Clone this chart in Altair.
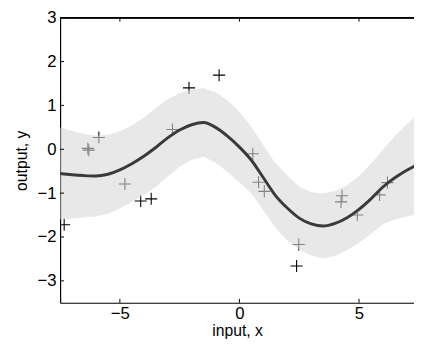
import altair as alt
import pandas as pd

# ---- data ----
grid_x = [-7.5, -7.0, -6.5, -6.0, -5.5, -5.0, -4.5, -4.0, -3.5, -3.0, -2.5, -2.0,
          -1.5, -1.0, -0.5, 0.0, 0.5, 1.0, 1.5, 2.0, 2.5, 3.0, 3.5, 4.0, 4.5, 5.0,
          5.5, 6.0, 6.5, 7.0, 7.5]
mean_y = [-0.55, -0.58, -0.60, -0.61, -0.57, -0.47, -0.33, -0.16, 0.04, 0.26, 0.44, 0.56,
          0.61, 0.50, 0.30, 0.05, -0.25, -0.65, -1.05, -1.34, -1.57, -1.70, -1.75, -1.69,
          -1.56, -1.37, -1.13, -0.86, -0.65, -0.48, -0.33]
half_w = [1.05, 1.00, 0.95, 0.92, 0.90, 0.88, 0.87, 0.88, 0.90, 0.88, 0.84, 0.80,
          0.78, 0.80, 0.82, 0.80, 0.76, 0.74, 0.74, 0.74, 0.72, 0.72, 0.74, 0.74,
          0.74, 0.76, 0.80, 0.85, 0.95, 1.05, 1.15]

obs_x = [-7.33, -6.34, -6.30, -5.88, -4.79, -4.13, -3.69, -2.80, -2.11, -0.85,
         0.56, 0.80, 1.04, 2.39, 2.48, 4.29, 4.25, 4.93, 5.86, 6.19]
obs_y = [-1.72, 0.02, -0.02, 0.27, -0.79, -1.18, -1.13, 0.45, 1.40, 1.69,
         -0.10, -0.75, -0.96, -2.66, -2.17, -1.06, -1.20, -1.50, -1.04, -0.76]

y_ticks = [-3, -2, -1, 0, 1, 2, 3]
x_ticks = [-5, 0, 5]

X_DOM = [-7.5, 7.3]
Y_DOM = [-3.5, 3]
W, H = 360, 290
FONT = "Liberation Sans"

curve = pd.DataFrame({"x": grid_x, "m": mean_y, "hw": half_w})
curve["lo"] = curve["m"] - curve["hw"]
curve["hi"] = curve["m"] + curve["hw"]
obs = pd.DataFrame({"x": obs_x, "y": obs_y})
yt = pd.DataFrame({"t": y_ticks})
xt = pd.DataFrame({"t": x_ticks})

xs = alt.Scale(domain=X_DOM, nice=False, zero=False)
ys = alt.Scale(domain=Y_DOM, nice=False, zero=False)

x_axis = alt.Axis(values=x_ticks, title="input, x", grid=False, ticks=False,
                  domain=True, domainColor="black", domainWidth=1.2,
                  labelFont=FONT, labelFontSize=17, labelColor="black",
                  labelPadding=3, titleFont=FONT, titleFontSize=16,
                  titleFontWeight="normal", titleColor="black", titlePadding=1,
                  format="d")
y_axis = alt.Axis(values=y_ticks, title="output, y", grid=False, ticks=False,
                  domain=True, domainColor="black", domainWidth=1.2,
                  labelFont=FONT, labelFontSize=17, labelColor="black",
                  labelPadding=4, titleFont=FONT, titleFontSize=16,
                  titleFontWeight="normal", titleColor="black", titlePadding=8,
                  format="d")

pts = alt.Chart(obs).mark_point(
    shape="M-1,0L1,0M0,-1L0,1", filled=False, color="black",
    strokeWidth=1.1, size=150, opacity=1, clip=True
).encode(
    x=alt.X("x:Q", scale=xs, axis=x_axis),
    y=alt.Y("y:Q", scale=ys, axis=y_axis),
)

band = alt.Chart(curve).mark_area(color="#d8d8d8", opacity=0.6, clip=True).encode(
    x=alt.X("x:Q", scale=xs),
    y=alt.Y("lo:Q", scale=ys),
    y2="hi:Q",
)

line = alt.Chart(curve).mark_line(color="#3a3a3a", strokeWidth=3, clip=True,
                                  interpolate="monotone").encode(
    x=alt.X("x:Q", scale=xs),
    y=alt.Y("m:Q", scale=ys),
)

top_border = alt.Chart(yt).mark_rule(color="black", strokeWidth=1.2).encode(
    x=alt.value(0), x2=alt.value(W), y=alt.value(0)
)

left_ticks = alt.Chart(yt).mark_rule(color="black", strokeWidth=1).encode(
    x=alt.value(0), x2=alt.value(4), y=alt.Y("t:Q", scale=ys)
)
bottom_ticks = alt.Chart(xt).mark_rule(color="black", strokeWidth=1).encode(
    y=alt.value(H), y2=alt.value(H - 4), x=alt.X("t:Q", scale=xs)
)
top_ticks = alt.Chart(xt).mark_rule(color="black", strokeWidth=1).encode(
    y=alt.value(0), y2=alt.value(4), x=alt.X("t:Q", scale=xs)
)

chart = alt.layer(pts, band, line, top_border, left_ticks, bottom_ticks, top_ticks).properties(
    width=W, height=H,
    autosize=alt.AutoSizeParams(type="none"),
    padding={"left": 53, "top": 7, "right": 0, "bottom": 36},
    background="white",
).configure_view(stroke=None)

chart.save("out.html", embed_options={"renderer": "svg", "actions": False})
